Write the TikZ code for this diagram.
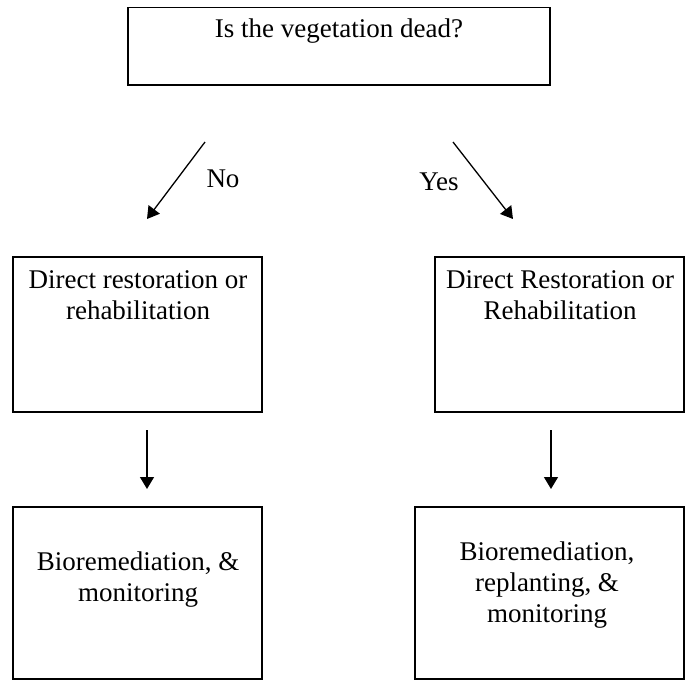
\documentclass[tikz,border=0pt]{standalone}
\usepackage{fontspec}
\setmainfont{Liberation Serif}
\usetikzlibrary{arrows.meta}
\begin{document}
\begin{tikzpicture}[x=1pt,y=-1pt,
  box/.style={draw, line width=1.3pt, rectangle, inner sep=0pt},
  txt/.style={inner sep=0pt, align=center, anchor=base,
    font=\fontsize{27}{31}\selectfont},
  arr/.style={line width=1.3pt, -{Triangle[length=12pt,width=14pt]}}]
  \useasboundingbox (0,0) rectangle (686,681);
  % boxes
  \node[box, minimum width=422pt, minimum height=77.5pt] (q) at (339,46.3) {};
  \node[box, minimum width=249pt, minimum height=155pt] (nl) at (137.5,334.5) {};
  \node[box, minimum width=249pt, minimum height=155pt] (yl) at (559.5,334.5) {};
  \node[box, minimum width=249pt, minimum height=172pt] (nb) at (137.5,593) {};
  \node[box, minimum width=269pt, minimum height=172pt] (yb) at (549.5,593) {};
  % texts (base anchor = baseline of the last line)
  \node[txt] (qt) at (339,37) {Is the vegetation dead?};
  \node[txt] (nlt) at (138,319) {Direct restoration or\\rehabilitation};
  \node[txt] (ylt) at (560,319) {Direct Restoration or\\Rehabilitation};
  \node[txt] (nbt) at (138,601) {Bioremediation, \&\\monitoring};
  \node[txt] (ybt) at (547,622) {Bioremediation,\\replanting, \&\\monitoring};
  \node[txt] (no) at (223,187) {No};
  \node[txt] (yes) at (439,190) {Yes};
  % arrow end points
  \coordinate (a1) at (205,142);
  \coordinate (a2) at (147,219);
  \coordinate (b1) at (453,142);
  \coordinate (b2) at (513,219);
  \coordinate (c1) at (147,430);
  \coordinate (c2) at (147,489);
  \coordinate (d1) at (551,430);
  \coordinate (d2) at (551,489);
  \draw[arr] (a1) -- (a2);
  \draw[arr] (b1) -- (b2);
  \draw[arr] (c1) -- (c2);
  \draw[arr] (d1) -- (d2);
\end{tikzpicture}
\end{document}
